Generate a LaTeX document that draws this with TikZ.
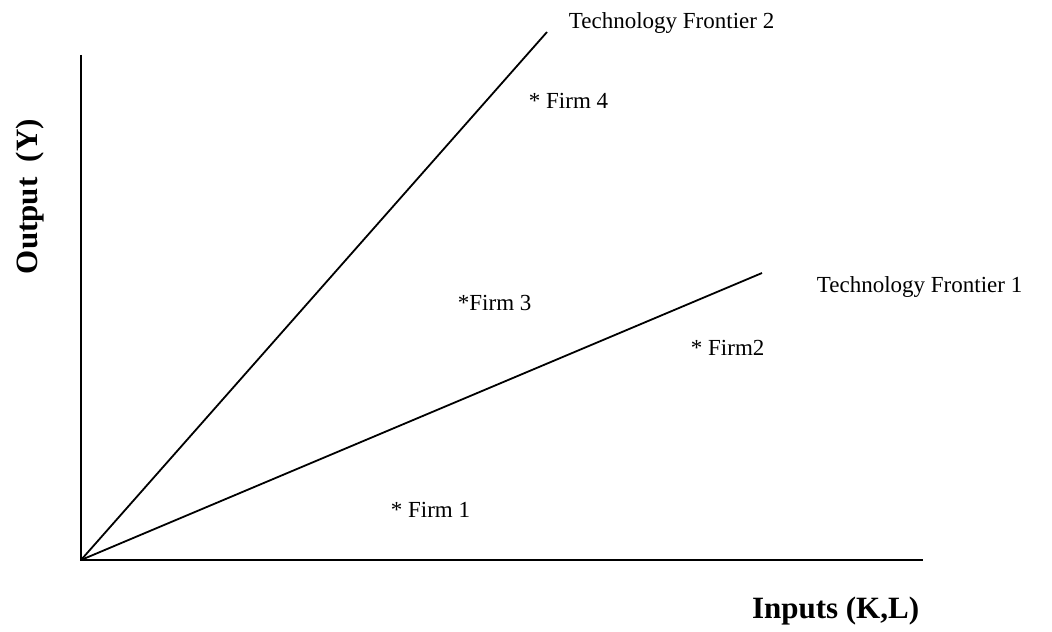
\documentclass[tikz,border=0pt]{standalone}
\usepackage{fontspec}
\setmainfont{Liberation Serif}
\usetikzlibrary{positioning}

\begin{document}
\begin{tikzpicture}[x=0.5pt, y=-0.5pt, line width=0.9pt,
        every node/.style={inner sep=0pt, font=\fontsize{11.5}{14}\selectfont},
        firm/.style={anchor=base west},
        axislabel/.style={font=\fontsize{15.5}{18}\selectfont\bfseries}]

    \useasboundingbox (0,0) rectangle (1052,631);

    % axes
    \coordinate (origin) at (81,560);
    \coordinate (ytop) at (81,55);
    \coordinate (xend) at (923,560);
    \draw (ytop) -- (origin) -- (xend);

    % frontiers
    \coordinate (tftwoend) at (547,32);
    \coordinate (tfoneend) at (762,273);
    \draw (origin) -- (tftwoend);
    \draw (origin) -- (tfoneend);

    \node[firm] (tftwo) at (568,29) {Technology Frontier 2};
    \node[firm] (tfone) at (816,292) {Technology Frontier 1};

    % firms
    \node[firm] (firmfour) at (528,108) {* Firm 4};
    \node[firm] (firmthree) at (457,310) {*Firm 3};
    \node[firm] (firmtwo) at (690,355) {* Firm2};
    \node[firm] (firmone) at (390,517) {* Firm 1};

    % axis labels
    \node[axislabel, anchor=base west, rotate=90] (ylabel) at (37,275) {Output\ \ (Y)};
    \node[axislabel, anchor=base east] (xlabel) at (920,618) {Inputs (K,L)};
\end{tikzpicture}
\end{document}
